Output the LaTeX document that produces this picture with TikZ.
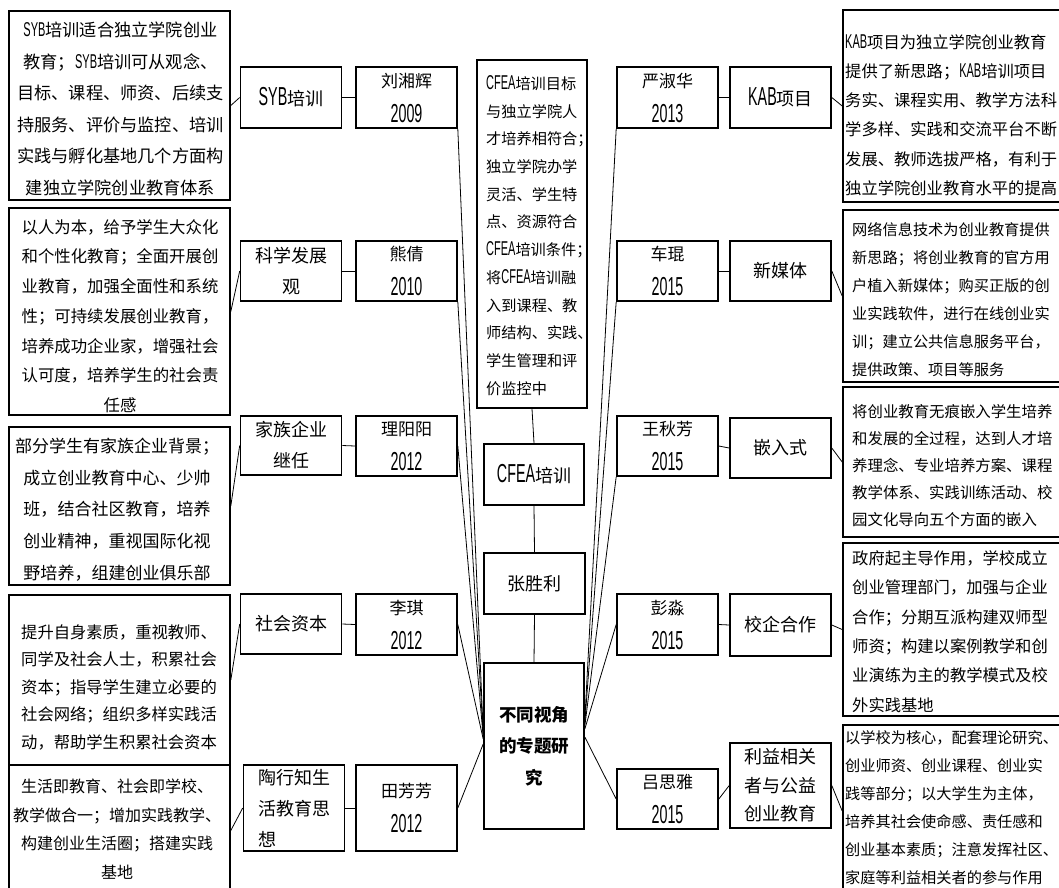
\documentclass[tikz,border=0pt]{standalone}
\usepackage{fontspec}
\setmainfont{Noto Sans CJK SC}
\newfontfamily\narfont[FakeStretch=0.55]{Liberation Sans}
\newcommand\lat[1]{{\narfont\fontsize{20}{20}\selectfont #1}}
\newcommand\yr[1]{{\narfont\fontsize{26}{26}\selectfont #1}}
\newcommand\fs[2]{\fontsize{#1}{#2}\selectfont}
\tikzset{
  bx/.style={draw, line width=1.6pt, inner sep=0pt, minimum width=101pt, align=center},
  namebox/.style={bx, minimum height=61pt, font=\fs{17}{35}},
  topicbox/.style={bx, font=\fs{18}{31}},
  dbox/.style={draw, line width=1.6pt, inner sep=0pt},
  txt/.style={inner sep=0pt},
  ln/.style={line width=0.8pt},
}
\begin{document}
\begin{tikzpicture}[x=1pt,y=-1pt]
\fill[white] (0,0) rectangle (1059,887);
\useasboundingbox (0,0) rectangle (1059,887);

% ---------- left description boxes ----------
\node[dbox, minimum width=221pt, minimum height=189pt] (dSYB) at (119.5,105.5) {};
\node[txt, align=center, font=\fs{17.2}{31.6}] (dSYBt) at (120.5,109) {\lat{SYB}培训适合独立学院创业\\教育；\lat{SYB}培训可从观念、\\目标、课程、师资、后续支\\持服务、评价与监控、培训\\实践与孵化基地几个方面构\\建独立学院创业教育体系};

\node[dbox, minimum width=221pt, minimum height=207pt] (dKX) at (119.5,311.5) {};
\node[txt, align=center, font=\fs{16.4}{29.7}] (dKXt) at (120,316) {以人为本，给予学生大众化\\和个性化教育；全面开展创\\业教育，加强全面性和系统\\性；可持续发展创业教育，\\培养成功企业家，增强社会\\认可度，培养学生的社会责\\任感};

\node[dbox, minimum width=221pt, minimum height=158pt] (dJZ) at (119.5,506) {};
\node[txt, align=center, font=\fs{17}{31.8}] (dJZt) at (117,509.5) {部分学生有家族企业背景；\\成立创业教育中心、少帅\\班，结合社区教育，培养\\创业精神，重视国际化视\\野培养，组建创业俱乐部};

\node[dbox, minimum width=221pt, minimum height=170pt] (dSH) at (119.5,680) {};
\node[txt, align=center, font=\fs{16.3}{27.5}] (dSHt) at (119,687) {提升自身素质，重视教师、\\同学及社会人士，积累社会\\资本；指导学生建立必要的\\社会网络；组织多样实践活\\动，帮助学生积累社会资本};

\node[dbox, minimum width=221pt, minimum height=131pt] (dTX) at (119.5,830.5) {};
\node[txt, align=center, font=\fs{16}{28.5}] (dTXt) at (117,829) {生活即教育、社会即学校、\\教学做合一；增加实践教学、\\构建创业生活圈；搭建实践\\基地};

% ---------- left topic boxes ----------
\node[topicbox, minimum height=61pt] (tSYB) at (291,97.5) {\yr{SYB}培训};
\node[topicbox, minimum height=60pt] (tKX) at (291,271) {科学发展\\观};
\node[topicbox, minimum height=59pt] (tJZ) at (291,445.5) {家族企业\\继任};
\node[topicbox, minimum height=60pt] (tSH) at (291,624) {社会资本};
\node[topicbox, minimum height=86pt, align=left] (tTX) at (294,808) {陶行知生\\活教育思\\想};

% ---------- left name boxes ----------
\node[namebox] (nLiu) at (406.5,97.5) {刘湘辉\\\yr{2009}};
\node[namebox, minimum height=60pt] (nXiong) at (406.5,271) {熊倩\\\yr{2010}};
\node[namebox, minimum height=60pt] (nLiY) at (406.5,446) {理阳阳\\\yr{2012}};
\node[namebox] (nLiQ) at (406.5,624.5) {李琪\\\yr{2012}};
\node[namebox, minimum height=86pt] (nTian) at (406.5,808) {田芳芳\\\yr{2012}};

% ---------- centre column ----------
\node[dbox, minimum width=110pt, minimum height=348pt] (cD) at (532,234) {};
\node[txt, align=left, anchor=west, font=\fs{15.2}{27.7}] (cDt) at (486,235.5) {\lat{CFEA}培训目标\\与独立学院人\\才培养相符合；\\独立学院办学\\灵活、学生特\\点、资源符合\\\lat{CFEA}培训条件；\\将\lat{CFEA}培训融\\入到课程、教\\师结构、实践、\\学生管理和评\\价监控中};
\node[topicbox, minimum width=100pt, minimum height=61pt] (cT) at (534,474.5) {\yr{CFEA}培训};
\node[topicbox, minimum width=101pt, minimum height=61pt] (cZ) at (534.5,583.5) {张胜利};
\node[bx, minimum width=100pt, minimum height=166pt, font=\bfseries\fs{17.5}{31.5}] (C) at (534,746) {不同视角\\的专题研\\究};

% ---------- right name boxes ----------
\node[namebox] (nYan) at (667.5,97.5) {严淑华\\\yr{2013}};
\node[namebox, minimum height=60pt] (nChe) at (667.5,271) {车琨\\\yr{2015}};
\node[namebox, minimum height=60pt] (nWang) at (667.5,446) {王秋芳\\\yr{2015}};
\node[namebox] (nPeng) at (667.5,624.5) {彭淼\\\yr{2015}};
\node[namebox, minimum height=60pt] (nLv) at (667.5,799) {吕思雅\\\yr{2015}};

% ---------- right topic boxes ----------
\node[topicbox, minimum height=61pt] (tKAB) at (780.5,97.5) {\yr{KAB}项目};
\node[topicbox, minimum height=60pt] (tXMT) at (780.5,271) {新媒体};
\node[topicbox, minimum height=60pt] (tQRS) at (780.5,448) {嵌入式};
\node[topicbox, minimum height=62pt] (tXQ) at (780.5,625) {校企合作};
\node[topicbox, minimum height=85pt, font=\fs{18}{28.5}] (tLY) at (780.5,785.5) {利益相关\\者与公益\\创业教育};

% ---------- right description boxes ----------
\node[dbox, minimum width=232pt, minimum height=192pt] (dKAB) at (959,106) {};
\node[txt, align=left, anchor=west, font=\fs{16.3}{29.2}] (dKABt) at (845,115) {\lat{KAB}项目为独立学院创业教育\\提供了新思路；\lat{KAB}培训项目\\务实、课程实用、教学方法科\\学多样、实践和交流平台不断\\发展、教师选拔严格，有利于\\独立学院创业教育水平的提高};

\node[dbox, minimum width=232pt, minimum height=172pt] (dXMT) at (959,296) {};
\node[txt, align=left, anchor=west, font=\fs{15.2}{28}] (dXMTt) at (852,300) {网络信息技术为创业教育提供\\新思路；将创业教育的官方用\\户植入新媒体；购买正版的创\\业实践软件，进行在线创业实\\训；建立公共信息服务平台，\\提供政策、项目等服务};

\node[dbox, minimum width=232pt, minimum height=150pt] (dQRS) at (959,462) {};
\node[txt, align=left, anchor=west, font=\fs{15.4}{27}] (dQRSt) at (852,466) {将创业教育无痕嵌入学生培养\\和发展的全过程，达到人才培\\养理念、专业培养方案、课程\\教学体系、实践训练活动、校\\园文化导向五个方面的嵌入};

\node[dbox, minimum width=232pt, minimum height=173pt] (dXQ) at (959,629.5) {};
\node[txt, align=left, anchor=west, font=\fs{16.3}{29.3}] (dXQt) at (852,631.5) {政府起主导作用，学校成立\\创业管理部门，加强与企业\\合作；分期互派构建双师型\\师资；构建以案例教学和创\\业演练为主的教学模式及校\\外实践基地};

\node[dbox, minimum width=232pt, minimum height=172pt] (dLY) at (959,811) {};
\node[txt, align=left, anchor=west, font=\fs{15.2}{28}] (dLYt) at (845,808) {以学校为核心，配套理论研究、\\创业师资、创业课程、创业实\\践等部分；以大学生为主体，\\培养其社会使命感、责任感和\\创业基本素质；注意发挥社区、\\家庭等利益相关者的参与作用};

% ---------- connectors ----------
\draw[ln] (dSYB.east) -- (tSYB.west);
\draw[ln] (dKX.east) -- (tKX.west);
\draw[ln] (dJZ.east) -- (tJZ.west);
\draw[ln] (dSH.east) -- (tSH.west);
\draw[ln] (dTX.east) -- (tTX.west);

\draw[ln] (tSYB.east) -- (nLiu.west);
\draw[ln] (tKX.east) -- (nXiong.west);
\draw[ln] (tJZ.east) -- (nLiY.west);
\draw[ln] (tSH.east) -- (nLiQ.west);
\draw[ln] (tTX.east) -- (nTian.west);

\draw[ln] (nLiu.south east) -- ([yshift=13pt]C.west);
\draw[ln] (nXiong.south east) -- ([yshift=11pt]C.west);
\draw[ln] (nLiY.east) -- ([yshift=9pt]C.west);
\draw[ln] (nLiQ.east) -- ([yshift=7pt]C.west);
\draw[ln] (nTian.east) -- ([yshift=2pt]C.west);

\draw[ln] (cD.south) -- (cT.north);
\draw[ln] (cT.south) -- (cZ.north);
\draw[ln] (cZ.south) -- (C.north);

\draw[ln] (nYan.south west) -- ([yshift=26pt]C.east);
\draw[ln] (nChe.south west) -- ([yshift=23pt]C.east);
\draw[ln] (nWang.south west) -- ([yshift=20pt]C.east);
\draw[ln] (nPeng.west) -- ([yshift=17pt]C.east);
\draw[ln] (nLv.west) -- ([yshift=9pt]C.east);

\draw[ln] (nYan.east) -- (tKAB.west);
\draw[ln] (nChe.east) -- (tXMT.west);
\draw[ln] (nWang.east) -- (tQRS.west);
\draw[ln] (nPeng.east) -- (tXQ.west);
\draw[ln] (nLv.east) -- (tLY.west);

\draw[ln] (tKAB.east) -- (dKAB.west);
\draw[ln] (tXMT.east) -- (dXMT.west);
\draw[ln] (tQRS.east) -- (dQRS.west);
\draw[ln] (tXQ.east) -- (dXQ.west);
\draw[ln] (tLY.east) -- (dLY.west);
\end{tikzpicture}
\end{document}
